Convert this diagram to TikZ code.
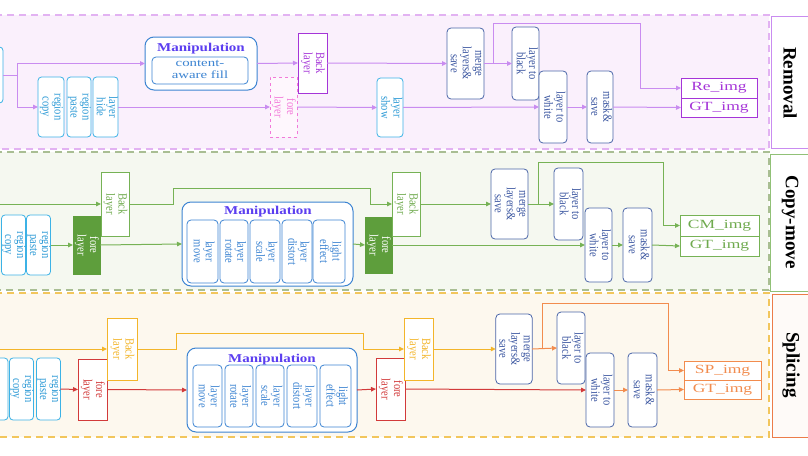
\documentclass[tikz,border=0pt]{standalone}
\usepackage{fontspec}
\setmainfont{Liberation Serif}
\usetikzlibrary{arrows.meta}
\definecolor{remfill}{HTML}{FAF0FC}
\definecolor{remdash}{HTML}{E2B2F2}
\definecolor{remline}{HTML}{C98CF0}
\definecolor{rempurple}{HTML}{A535D8}
\definecolor{forepink}{HTML}{F27AD9}
\definecolor{cmfill}{HTML}{F5F8F0}
\definecolor{cmdash}{HTML}{A9BE93}
\definecolor{cmline}{HTML}{76B255}
\definecolor{cmgreen}{HTML}{5E9E3C}
\definecolor{cmtext}{HTML}{6FAA4E}
\definecolor{spfill}{HTML}{FDF8EE}
\definecolor{spdash}{HTML}{F2C65C}
\definecolor{spyel}{HTML}{F3B52A}
\definecolor{spred}{HTML}{D23A3A}
\definecolor{sporange}{HTML}{F28C4E}
\definecolor{cyanD}{HTML}{3CB2E6}
\definecolor{cyanT}{HTML}{2C9AD6}
\definecolor{dblue}{HTML}{4B66A8}
\definecolor{dbtext}{HTML}{3A55A0}
\definecolor{mblue}{HTML}{3C84D2}
\definecolor{mtitle}{HTML}{5B3EF0}
\newcommand\rt[1]{\scalebox{1.2}[1]{\rotatebox{-90}{\fontsize{10.5}{10}\selectfont\begin{tabular}{@{}c@{}}#1\end{tabular}}}}
\newcommand\bx[7]{\node[#6,minimum width={(#4)-(#2)},minimum height={(#5)-(#3)}] (#1) at ({((#2)+(#4))/2},{((#3)+(#5))/2}) {#7};}
\newcommand\mtitletext{\scalebox{1.25}[1]{\fontsize{12}{12}\selectfont\bfseries Manipulation}}
\newcommand\outtxt[1]{\scalebox{1.4}[1]{\fontsize{12.5}{12.5}\selectfont #1}}
\newcommand\lbl[1]{\rotatebox{-90}{\fontsize{19}{19}\selectfont\bfseries #1}}
\begin{document}
\begin{tikzpicture}[x=1pt,y=-1pt,
  box/.style={draw,line width=0.8pt,inner sep=0pt,outer sep=0pt,fill=white},
  cybox/.style={box,draw=cyanD,text=cyanT,rounded corners=3.5pt},
  dbbox/.style={box,draw=dblue,text=dbtext,rounded corners=4pt},
  manbox/.style={box,draw=mblue,line width=1pt,rounded corners=9pt},
  minbox/.style={box,draw=mblue,text=mblue,rounded corners=4pt},
  outbox/.style={box,line width=0.9pt},
  labbox/.style={draw,line width=1pt,inner sep=0pt,outer sep=0pt},
  tip/.style={-{Triangle[length=5pt,width=4.5pt]}},
  rarr/.style={tip,draw=remline,line width=1pt},
  rline/.style={draw=remline,line width=1pt},
  garr/.style={tip,draw=cmline,line width=1pt},
  yarr/.style={tip,draw=spyel,line width=1pt},
  redarr/.style={tip,draw=spred,line width=1pt},
  oarr/.style={tip,draw=sporange,line width=1pt},
  banddash/.style={line width=1.1pt,dash pattern=on 7pt off 5pt}]
\path[use as bounding box] (0,0) rectangle (808,455);
\clip (0,0) rectangle (808,455);
\fill[white] (0,0) rectangle (808,455);
% ---------- bands
\fill[remfill] (-5,15) rectangle (769,149);
\draw[banddash,remdash] (-5,15) -- (769,15) -- (769,149) -- (-5,149);
\fill[cmfill] (-5,152) rectangle (769,290);
\draw[banddash,cmdash] (-5,152) -- (769,152) -- (769,290) -- (-5,290);
\fill[spfill] (-5,293) rectangle (769,437);
\draw[banddash,spdash] (-5,293) -- (769,293) -- (769,437) -- (-5,437);
% ---------- label boxes
\draw[labbox,draw=remline,fill=white] (771,16) rectangle (830,148);
\node (labrem) at (790,83) {\lbl{Removal}};
\draw[labbox,draw=cmline!80,fill=white] (770,154) rectangle (830,291);
\node (labcm) at (790,222) {\lbl{Copy-move}};
\draw[labbox,draw=sporange!80!spred,fill=sporange!4] (772,294) rectangle (830,437);
\node (labsp) at (791,365) {\lbl{Splicing}};
% ================= REMOVAL
\bx{rin}{-30}{47}{3}{103}{cybox}{}
\coordinate (rsp) at (17,75);
\bx{rrc}{38}{77}{64}{137}{cybox}{\rt{region\\copy}}
\bx{rrp}{67}{77}{91}{137}{cybox}{\rt{region\\paste}}
\bx{rrh}{93}{77}{118}{137}{cybox}{\rt{layer\\hide}}
\bx{rman}{145}{37}{257}{90}{manbox}{}
\node[text=mtitle,inner sep=0] (rmant) at (201,49) {\mtitletext};
\bx{rcaf}{152}{57}{248}{84}{minbox}{\scalebox{1.35}[1]{\fontsize{11}{12}\selectfont\begin{tabular}{@{}c@{}}content-\\aware fill\end{tabular}}}
\bx{rfl}{270}{77}{297}{137}{box,draw=forepink,text=forepink,fill=forepink!6,dashed}{\rt{fore\\layer}}
\bx{rbl}{298}{33}{327}{93}{box,draw=rempurple,text=rempurple}{\rt{Back\\layer}}
\bx{rls}{377}{78}{403}{137}{cybox}{\rt{layer\\show}}
\bx{rmg}{447}{28}{484}{99}{dbbox}{\rt{merge\\layers\&\\save}}
\bx{rlb}{512}{27}{539}{100}{dbbox}{\rt{layer to\\black}}
\bx{rlw}{539}{71}{567}{143}{dbbox}{\rt{layer to\\white}}
\bx{rms}{587}{71}{613}{143}{dbbox}{\rt{mask\&\\save}}
\bx{rre}{681}{78}{757}{98}{outbox,draw=rempurple,text=rempurple}{\outtxt{Re\_img}}
\bx{rgt}{681}{98}{757}{117}{outbox,draw=rempurple,text=rempurple}{\outtxt{GT\_img}}
\draw[rline] (rin.east) -- (rsp);
\draw[rarr] (rsp) |- (rman.west);
\draw[rarr] (rsp) |- (rrc.west);
\draw[rarr] (rrh.east) -- (rfl.west);
\draw[rarr] (rman.east) -- (rbl.west);
\draw[rarr] (rbl.east) -- (rmg.west);
\draw[rarr] (rfl.east) -- (rls.west);
\draw[rarr] (rls.east) -- (rlw.west);
\draw[rarr] (rmg.east) -- (rlb.west);
\coordinate (rbr) at (493,63.5);
\draw[rarr] (rbr) |- (640,23) |- (rre.west);
\draw[rarr] (rlw.east) -- (rms.west);
\draw[rarr] (rms.east) -- (rgt.west);
% ================= COPY-MOVE
\coordinate (cmin) at (-5,204);
\bx{cmrc}{2}{215}{25}{275}{cybox}{\rt{region\\copy}}
\bx{cmrp}{27}{215}{50}{275}{cybox}{\rt{region\\paste}}
\bx{cmb1}{101}{172}{129}{236}{box,draw=cmline,text=cmtext}{\rt{Back\\layer}}
\bx{cmf1}{73}{216}{100}{274}{box,draw=cmgreen,fill=cmgreen,text=white}{\rt{fore\\layer}}
\bx{cmman}{182}{202}{353}{286}{manbox}{}
\node[text=mtitle,inner sep=0] (cmmant) at (268,212) {\mtitletext};
\bx{cmi1}{187}{220}{218}{283}{minbox}{\rt{layer\\move}}
\bx{cmi2}{220}{220}{248}{283}{minbox}{\rt{layer\\rotate}}
\bx{cmi3}{250}{220}{280}{283}{minbox}{\rt{layer\\scale}}
\bx{cmi4}{282}{220}{312}{283}{minbox}{\rt{layer\\distort}}
\bx{cmi5}{313}{220}{345}{283}{minbox}{\rt{light\\effect}}
\bx{cmf2}{365}{217}{392}{273}{box,draw=cmgreen,fill=cmgreen,text=white}{\rt{fore\\layer}}
\bx{cmb2}{392}{172}{420}{236}{box,draw=cmline,text=cmtext}{\rt{Back\\layer}}
\bx{cmmg}{491}{169}{528}{239}{dbbox}{\rt{merge\\layers\&\\save}}
\bx{cmlb}{554}{168}{583}{240}{dbbox}{\rt{layer to\\black}}
\bx{cmlw}{585}{208}{612}{282}{dbbox}{\rt{layer to\\white}}
\bx{cmms}{623}{208}{652}{282}{dbbox}{\rt{mask\&\\save}}
\bx{cmcm}{680}{215}{759}{236}{outbox,draw=cmline,text=cmtext}{\outtxt{CM\_img}}
\bx{cmgt}{680}{236}{759}{256}{outbox,draw=cmline,text=cmtext}{\outtxt{GT\_img}}
\draw[garr] (cmin) -- (cmb1.west);
\draw[garr] (cmrp.east) -- (cmf1.west);
\draw[garr] (cmb1.east) -- (173,204) |- (370,188) |- (cmb2.west);
\draw[garr] (cmf1.east) -- (cmman.west);
\draw[garr] (cmman.east) -- (cmf2.west);
\draw[garr] (cmf2.east) -- (cmlw.west);
\draw[garr] (cmb2.east) -- (cmmg.west);
\draw[garr] (cmmg.east) -- (cmlb.west);
\coordinate (cmbr) at (538,204);
\draw[garr] (cmbr) |- (663,162) |- (cmcm.west);
\draw[garr] (cmlw.east) -- (cmms.west);
\draw[garr] (cmms.east) -- (cmgt.west);
% ================= SPLICING
\coordinate (spin) at (-5,349);
\bx{spx}{-16}{358}{8}{420}{cybox}{}
\bx{sprc}{10}{358}{33}{420}{cybox}{\rt{region\\copy}}
\bx{sprp}{37}{358}{60}{420}{cybox}{\rt{region\\paste}}
\bx{spf1}{78}{359}{107}{420}{box,draw=spred,text=spred}{\rt{fore\\layer}}
\bx{spb1}{107}{318}{137}{380}{box,draw=spyel,text=spyel}{\rt{Back\\layer}}
\bx{spman}{187}{348}{357}{432}{manbox}{}
\node[text=mtitle,inner sep=0] (spmant) at (272,360) {\mtitletext};
\bx{spi1}{193}{365}{222}{427}{minbox}{\rt{layer\\move}}
\bx{spi2}{225}{365}{253}{427}{minbox}{\rt{layer\\rotate}}
\bx{spi3}{256}{365}{284}{427}{minbox}{\rt{layer\\scale}}
\bx{spi4}{287}{365}{317}{427}{minbox}{\rt{layer\\distort}}
\bx{spi5}{320}{365}{351}{427}{minbox}{\rt{light\\effect}}
\bx{spf2}{376}{358}{405}{420}{box,draw=spred,text=spred}{\rt{fore\\layer}}
\bx{spb2}{404}{318}{433}{380}{box,draw=spyel,text=spyel}{\rt{Back\\layer}}
\bx{spmg}{496}{314}{532}{384}{dbbox}{\rt{merge\\layers\&\\save}}
\bx{splb}{557}{312}{585}{384}{dbbox}{\rt{layer to\\black}}
\bx{splw}{586}{353}{614}{427}{dbbox}{\rt{layer to\\white}}
\bx{spms}{628}{353}{657}{427}{dbbox}{\rt{mask\&\\save}}
\bx{spsp}{684}{361}{761}{380}{outbox,draw=sporange,text=sporange}{\outtxt{SP\_img}}
\bx{spgt}{684}{380}{761}{399}{outbox,draw=sporange,text=sporange}{\outtxt{GT\_img}}
\draw[yarr] (spin) -- (spb1.west);
\draw[redarr] (sprp.east) -- (spf1.west);
\draw[yarr] (spb1.east) -- (176,349) |- (363,333) |- (spb2.west);
\draw[redarr] (spf1.east) -- (spman.west);
\draw[redarr] (spman.east) -- (spf2.west);
\draw[redarr] (spf2.east) -- (splw.west);
\draw[yarr] (spb2.east) -- (spmg.west);
\draw[oarr] (spmg.east) -- (splb.west);
\coordinate (spbr) at (542,349);
\draw[oarr] (spbr) |- (668,303) |- (spsp.west);
\draw[oarr] (splw.east) -- (spms.west);
\draw[oarr] (spms.east) -- (spgt.west);
\end{tikzpicture}
\end{document}
